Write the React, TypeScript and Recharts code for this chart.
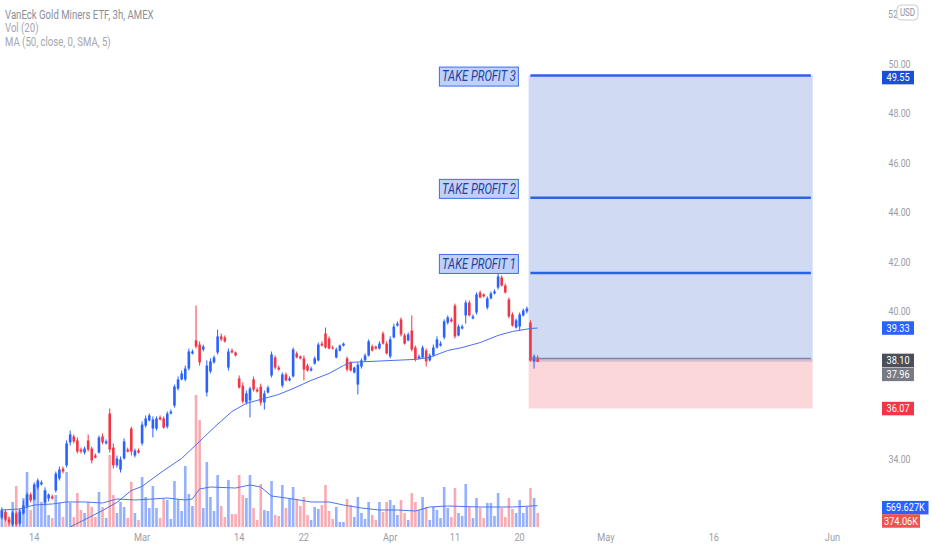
import React from 'react';
import {
  ComposedChart,
  Bar,
  Line,
  XAxis,
  YAxis,
  ReferenceArea,
  ReferenceLine,
} from 'recharts';

// 3h candles, Feb 9 - Apr 21 (index 0..149), rest of the axis is empty future space
const opens = [
  31.66, 31.90, 31.58, 31.38, 31.82, 31.42, 31.82, 32.11, 32.59, 32.39,
  32.88, 33.00, 32.27, 32.43, 32.51, 32.75, 33.24, 33.64, 33.77, 34.70,
  34.94, 34.78, 34.41, 34.29, 34.78, 34.45, 34.17, 34.29, 34.94, 34.66,
  35.87, 34.49, 33.77, 33.60, 34.05, 34.41, 35.26, 34.17, 34.37, 34.66,
  35.38, 35.59, 35.26, 35.26, 35.71, 35.67, 35.34, 35.87, 36.19, 36.88,
  37.25, 37.25, 37.69, 38.30, 38.83, 38.66, 38.46, 36.72, 37.57, 37.94,
  38.34, 38.99, 38.95, 37.73, 38.42, 38.34, 37.29, 37.00, 36.32, 36.40,
  37.25, 36.84, 36.96, 36.32, 36.72, 37.41, 38.14, 37.73, 37.00, 37.45,
  37.21, 37.37, 38.30, 38.18, 38.10, 37.81, 37.61, 37.89, 38.02, 38.70,
  39.11, 38.91, 38.54, 38.14, 38.42, 38.62, 38.10, 37.94, 37.53, 37.04,
  37.77, 38.02, 38.22, 38.58, 38.58, 38.50, 39.11, 38.70, 38.18, 38.95,
  39.43, 39.68, 39.03, 38.83, 39.23, 38.54, 38.10, 38.14, 38.42, 38.02,
  38.22, 38.54, 38.62, 38.95, 39.55, 39.68, 40.24, 39.03, 39.31, 39.84,
  40.36, 39.72, 39.96, 40.77, 40.69, 40.16, 40.53, 40.73, 40.97, 41.38,
  41.05, 40.49, 39.88, 39.35, 39.39, 39.84, 40.00, 39.55, 37.98, 38.14,
];
const highs = [
  32.07, 31.98, 31.70, 31.94, 31.90, 32.03, 32.35, 32.67, 32.67, 33.08,
  33.24, 33.16, 32.88, 32.63, 32.59, 33.52, 33.72, 33.72, 34.78, 35.18,
  35.02, 34.90, 34.49, 34.53, 35.02, 34.53, 34.25, 34.98, 35.06, 34.82,
  36.07, 34.66, 34.17, 34.13, 34.86, 34.49, 35.34, 34.45, 34.45, 35.55,
  35.79, 35.87, 35.75, 35.75, 35.79, 35.75, 35.95, 36.03, 37.04, 37.37,
  37.61, 37.81, 38.50, 38.46, 40.24, 38.79, 38.66, 38.02, 38.10, 38.22,
  39.27, 39.11, 39.03, 38.50, 38.50, 38.38, 37.41, 37.13, 36.80, 36.96,
  37.37, 36.92, 37.08, 36.80, 37.00, 38.38, 38.22, 37.81, 37.53, 37.53,
  37.37, 38.54, 38.38, 38.22, 38.22, 37.89, 37.77, 38.18, 38.74, 38.79,
  39.35, 38.99, 38.62, 38.54, 38.66, 38.74, 38.18, 37.98, 37.77, 37.94,
  38.10, 38.30, 38.87, 38.66, 38.62, 38.79, 39.19, 38.79, 38.99, 39.51,
  39.60, 39.76, 39.11, 39.15, 39.84, 38.62, 38.26, 38.62, 38.50, 38.30,
  38.66, 38.99, 38.79, 39.68, 39.84, 39.76, 40.32, 39.47, 39.47, 40.45,
  40.45, 39.88, 40.77, 40.85, 40.73, 40.61, 40.81, 40.89, 41.54, 41.46,
  41.13, 40.57, 39.96, 39.72, 39.96, 40.12, 40.20, 39.64, 38.26, 38.22,
];
const lows = [
  31.58, 31.50, 31.34, 31.30, 31.30, 31.34, 31.78, 32.03, 32.27, 32.35,
  32.79, 32.96, 32.15, 32.31, 32.39, 32.67, 33.16, 33.44, 33.68, 34.57,
  34.66, 34.25, 34.25, 34.21, 34.33, 33.85, 34.05, 34.25, 34.62, 34.62,
  34.29, 33.64, 33.68, 33.48, 34.01, 34.29, 34.17, 34.09, 34.25, 34.57,
  35.30, 35.55, 34.90, 35.18, 35.59, 35.26, 35.26, 35.83, 36.11, 36.80,
  37.21, 37.17, 37.61, 38.26, 38.50, 37.81, 38.38, 36.56, 37.49, 37.89,
  38.26, 38.79, 38.74, 37.61, 38.30, 38.18, 36.88, 36.28, 36.24, 35.71,
  36.76, 36.72, 36.19, 36.03, 36.68, 37.33, 37.65, 37.61, 36.92, 37.17,
  37.17, 37.33, 38.10, 38.06, 37.21, 37.57, 37.57, 37.85, 37.98, 38.58,
  38.50, 38.46, 38.46, 38.10, 38.38, 38.58, 37.57, 37.57, 37.49, 36.64,
  37.69, 37.98, 38.18, 38.38, 38.46, 38.46, 38.66, 38.26, 38.10, 38.91,
  39.39, 38.99, 38.66, 38.79, 38.38, 37.98, 38.06, 38.10, 37.77, 37.98,
  38.18, 38.50, 38.58, 38.87, 39.47, 39.55, 38.91, 38.99, 39.27, 39.51,
  39.80, 39.68, 39.88, 40.53, 40.57, 40.08, 40.49, 40.69, 40.89, 41.01,
  40.73, 39.72, 39.39, 39.31, 39.23, 39.80, 39.92, 37.98, 37.69, 37.98,
];
const closes = [
  31.94, 31.58, 31.46, 31.86, 31.38, 31.90, 32.15, 32.59, 32.35, 33.00,
  33.16, 33.08, 32.75, 32.59, 32.43, 33.44, 33.60, 33.52, 34.66, 35.02,
  34.74, 34.33, 34.33, 34.45, 34.41, 33.97, 34.09, 34.90, 34.70, 34.74,
  34.41, 33.77, 34.05, 34.01, 34.74, 34.33, 34.33, 34.37, 34.29, 35.42,
  35.67, 35.79, 35.63, 35.67, 35.63, 35.30, 35.87, 35.95, 36.96, 37.25,
  37.49, 37.69, 38.38, 38.38, 38.58, 37.94, 38.58, 37.81, 37.98, 38.14,
  38.99, 38.87, 38.79, 38.38, 38.34, 38.22, 36.92, 36.36, 36.68, 36.88,
  36.84, 36.76, 36.32, 36.68, 36.92, 38.26, 37.73, 37.65, 37.45, 37.21,
  37.29, 38.46, 38.14, 38.10, 37.65, 37.61, 37.69, 38.10, 38.66, 38.62,
  38.54, 38.50, 38.50, 38.46, 38.62, 38.70, 37.65, 37.61, 37.73, 37.85,
  38.02, 38.22, 38.79, 38.42, 38.50, 38.70, 38.70, 38.30, 38.87, 39.39,
  39.51, 39.07, 38.70, 39.07, 38.46, 38.06, 38.18, 38.54, 37.98, 38.22,
  38.54, 38.87, 38.70, 39.60, 39.76, 39.60, 38.99, 39.39, 39.39, 40.36,
  39.84, 39.80, 40.69, 40.57, 40.61, 40.53, 40.73, 40.81, 41.42, 41.05,
  40.77, 39.80, 39.43, 39.64, 39.88, 40.04, 40.12, 38.02, 38.18, 37.96,
];
// volume in thousands of shares
const volumes = [
  481, 374, 267, 668, 1095, 454, 774, 1469, 454, 1041,
  1175, 668, 988, 320, 240, 854, 641, 267, 1469, 641,
  267, 908, 454, 374, 668, 534, 267, 935, 534, 240,
  1922, 854, 374, 668, 534, 240, 1202, 374, 187, 1335,
  801, 507, 1095, 507, 240, 748, 721, 214, 1228, 748,
  427, 1629, 881, 561, 3524, 2857, 507, 1736, 801, 427,
  1388, 561, 267, 1255, 347, 347, 1388, 854, 774, 1388,
  507, 187, 1148, 454, 427, 1228, 320, 294, 1121, 507,
  748, 1068, 748, 561, 801, 320, 187, 534, 481, 587,
  1121, 427, 214, 534, 134, 134, 748, 587, 267, 801,
  374, 214, 668, 320, 187, 668, 401, 668, 721, 587,
  320, 721, 374, 187, 908, 668, 454, 801, 534, 187,
  534, 454, 240, 1068, 507, 267, 1041, 374, 294, 1148,
  534, 240, 774, 507, 240, 641, 641, 294, 908, 507,
  267, 774, 481, 374, 721, 374, 534, 1041, 774, 374.06,
];
// MA (50) at a few bars: [bar, value]
const maPoints = [
  [18, 31.2], [28, 31.94], [32, 32.27], [36, 32.75], [39, 32.92], [45, 33.56],
  [50, 34.05], [54, 34.6], [59, 35.3], [64, 35.95], [68, 36.28], [72, 36.44],
  [77, 36.64], [81, 36.88], [86, 37.21], [91, 37.49], [95, 37.81], [97, 37.94],
  [100, 37.96], [109, 38.02], [115, 38.06], [119, 38.14], [124, 38.42],
  [128, 38.54], [133, 38.74], [138, 39.03], [142, 39.19], [147, 39.31], [149, 39.33],
];
// Vol (20) average, thousands
const volMaPoints = [
  [0, 454], [5, 481], [9, 587], [14, 614], [18, 668], [23, 668], [28, 641],
  [32, 748], [37, 721], [42, 748], [46, 774], [51, 721], [53, 748], [54, 881],
  [55, 1015], [58, 1068], [65, 1041], [69, 1121], [72, 1068], [75, 828],
  [81, 748], [86, 668], [91, 668], [95, 587], [100, 507], [105, 454], [110, 454],
  [115, 427], [119, 534], [124, 561], [133, 534], [142, 534], [149, 569.627],
];
const totalBars = 245;
const dateLabels = {
  9: '14', 39: 'Mar', 66: '14', 84: '22', 108: 'Apr',
  126: '11', 144: '20', 168: 'May', 198: '16', 231: 'Jun',
};
const priceTicks = [34, 40, 42, 44, 46, 48, 50, 52];

// position tool
const zoneStart = 147;
const zoneEnd = 225;
const entry = 38.1;
const stopLoss = 36.07;
const lastPrice = 37.96;
const maLast = 39.33;
const takeProfits = [
  { name: 'TAKE PROFIT 1', price: 41.56, dy: -9 },
  { name: 'TAKE PROFIT 2', price: 44.6, dy: -9 },
  { name: 'TAKE PROFIT 3', price: 49.55, dy: 1 },
];

const BLUE = '#2962ff';
const RED = '#f23645';
const GREY_TEXT = '#9a9da6';
const FONT = 'Roboto, sans-serif';

const maMap = new Map(maPoints.map(([i, v]) => [i, v]));
const vmaMap = new Map(volMaPoints.map(([i, v]) => [i, v]));

const rows = Array.from({ length: totalBars }, (_, i) => {
  const row: any = { t: i };
  if (i < closes.length) {
    row.o = opens[i];
    row.h = highs[i];
    row.l = lows[i];
    row.c = closes[i];
    row.range = [lows[i], highs[i]];
    row.v = volumes[i];
  }
  if (maMap.has(i)) row.ma = maMap.get(i);
  if (vmaMap.has(i)) row.vma = vmaMap.get(i);
  return row;
});

function SquishText({ x, y, anchor = 'start', size = 11, fill = GREY_TEXT, italic = false, children }: any) {
  return (
    <text
      transform={`translate(${x} ${y}) scale(0.8 1)`}
      textAnchor={anchor}
      fontSize={size}
      fontFamily={FONT}
      fontStyle={italic ? 'italic' : 'normal'}
      fill={fill}
    >
      {children}
    </text>
  );
}

function CandleShape(props: any) {
  const { x, y, width, height } = props;
  const d = props.payload || props;
  if (d.o == null || !height) return null;
  const top = Math.min(y, y + height);
  const span = Math.abs(height);
  const k = span / (d.h - d.l);
  const yO = top + (d.h - d.o) * k;
  const yC = top + (d.h - d.c) * k;
  const color = d.c >= d.o ? BLUE : RED;
  const cx = x + width / 2;
  const bw = 2.6;
  return (
    <g>
      <line x1={cx} x2={cx} y1={top} y2={top + span} stroke={color} strokeWidth={1} />
      <rect x={cx - bw / 2} y={Math.min(yO, yC)} width={bw} height={Math.max(1, Math.abs(yC - yO))} fill={color} />
    </g>
  );
}

function VolumeShape(props: any) {
  const { x, y, width, height } = props;
  const d = props.payload || props;
  if (d.v == null || !height) return null;
  const up = d.c >= d.o;
  const cx = x + width / 2;
  return (
    <rect
      x={cx - 1.3}
      y={Math.min(y, y + height)}
      width={2.6}
      height={Math.abs(height)}
      fill={up ? BLUE : RED}
      fillOpacity={up ? 0.5 : 0.42}
    />
  );
}

function DateTick({ x, payload }: any) {
  const label = dateLabels[payload.value];
  if (!label) return <g />;
  return <SquishText x={x} y={541} anchor="middle" size={11.5}>{label}</SquishText>;
}

function PriceTick({ y, payload }: any) {
  // the top label is mostly hidden behind the currency button, only "52" shows
  if (payload.value === 52) {
    return <SquishText x={888} y={y + 3} size={11}>52</SquishText>;
  }
  return <SquishText x={899.5} y={y + 3.5} anchor="middle" size={11}>{payload.value.toFixed(2)}</SquishText>;
}

function Badge({ viewBox, text, color, dy = 0, w = 32 }: any) {
  if (!viewBox) return null;
  const bx = viewBox.x + viewBox.width + 1;
  const by = viewBox.y - 6.75 + dy;
  return (
    <g>
      <rect x={bx} y={by} width={w} height={13.5} fill={color} />
      <SquishText x={bx + w / 2} y={by + 10.3} anchor="middle" size={11.5} fill="#ffffff">{text}</SquishText>
    </g>
  );
}

function TpLabel({ viewBox, text, dy = 0 }: any) {
  if (!viewBox) return null;
  const bx = viewBox.x - 91;
  const by = viewBox.y - 9.5 + dy;
  return (
    <g>
      <rect x={bx} y={by} width={79} height={19} fill="#bfd0fa" stroke="#3c6cf0" strokeWidth={1} />
      <SquishText x={bx + 39.5} y={by + 14.2} anchor="middle" size={14} fill="#22409f" italic>{text}</SquishText>
    </g>
  );
}

export default function App() {
  return (
    <div style={{ position: 'absolute', left: 0, top: 0, width: 932, height: 550, background: '#ffffff' }}>
      <ComposedChart width={932} height={550} data={rows} margin={{ top: 0, right: 0, bottom: 0, left: 0 }}>
        <XAxis
          dataKey="t"
          type="category"
          interval={0}
          height={23}
          axisLine={false}
          tickLine={false}
          tick={<DateTick />}
        />
        <XAxis xAxisId="v" dataKey="t" type="category" hide />
        <YAxis
          yAxisId="p"
          orientation="right"
          type="number"
          width={51}
          domain={[31.275, 52.61]}
          ticks={priceTicks}
          allowDataOverflow
          axisLine={false}
          tickLine={false}
          tick={<PriceTick />}
        />
        <YAxis yAxisId="vol" type="number" hide domain={[0, 14071]} allowDataOverflow />

        <ReferenceArea yAxisId="p" x1={zoneStart} x2={zoneEnd} y1={entry} y2={takeProfits[2].price} fill="#1f4fc7" fillOpacity={0.21} stroke="none" />
        <ReferenceArea yAxisId="p" x1={zoneStart} x2={zoneEnd} y1={stopLoss} y2={entry} fill={RED} fillOpacity={0.2} stroke="none" />
        <ReferenceArea yAxisId="p" x1={zoneStart} x2={zoneEnd} y1={lastPrice} y2={entry} fill="#1f4fc7" fillOpacity={0.18} stroke="none" />

        <Bar xAxisId="v" yAxisId="vol" dataKey="v" shape={<VolumeShape />} isAnimationActive={false} />
        <Line xAxisId="v" yAxisId="vol" dataKey="vma" connectNulls dot={false} activeDot={false} stroke="#4f74ea" strokeWidth={1} isAnimationActive={false} />
        <Line yAxisId="p" dataKey="ma" connectNulls dot={false} activeDot={false} stroke="#4a6fea" strokeWidth={1} isAnimationActive={false} />
        <Bar yAxisId="p" dataKey="range" shape={<CandleShape />} isAnimationActive={false} />

        <ReferenceLine
          yAxisId="p"
          segment={[{ x: zoneStart, y: entry }, { x: zoneEnd, y: entry }]}
          stroke="#7d879c"
          strokeWidth={1.5}
        />
        {takeProfits.map((tp) => (
          <ReferenceLine
            key={tp.name}
            yAxisId="p"
            segment={[{ x: zoneStart, y: tp.price }, { x: zoneEnd, y: tp.price }]}
            stroke="#2a62e8"
            strokeWidth={2.5}
            label={<TpLabel text={tp.name} dy={tp.dy} />}
          />
        ))}

        <ReferenceLine yAxisId="p" y={takeProfits[2].price} stroke="none" label={<Badge text="49.55" color="#1c4fd6" dy={2} />} />
        <ReferenceLine yAxisId="p" y={maLast} stroke="none" label={<Badge text="39.33" color={BLUE} />} />
        <ReferenceLine yAxisId="p" y={entry} stroke="none" label={<Badge text="38.10" color="#4c4f58" dy={2} />} />
        <ReferenceLine yAxisId="p" y={lastPrice} stroke="none" label={<Badge text="37.96" color="#787b86" dy={12.5} />} />
        <ReferenceLine yAxisId="p" y={stopLoss} stroke="none" label={<Badge text="36.07" color={RED} />} />
        <ReferenceLine yAxisId="vol" y={569.627} stroke="none" label={<Badge text="569.627K" color={BLUE} w={46.5} dy={2} />} />
        <ReferenceLine yAxisId="vol" y={374.06} stroke="none" label={<Badge text="374.06K" color="#ef5350" w={38} dy={8} />} />
      </ComposedChart>

      <svg width={932} height={550} style={{ position: 'absolute', left: 0, top: 0, pointerEvents: 'none' }}>
        <SquishText x={5} y={18.5} size={12} fill="#8c8f98">VanEck Gold Miners ETF, 3h, AMEX</SquishText>
        <SquishText x={5} y={32} size={12} fill="#a3a6ae">Vol (20)</SquishText>
        <SquishText x={5} y={45.5} size={12} fill="#a3a6ae">MA (50, close, 0, SMA, 5)</SquishText>
        <rect x={897} y={5} width={21} height={15} rx={4} fill="#ffffff" stroke="#c9ccd3" />
        <SquishText x={907.5} y={16} anchor="middle" size={10} fill="#8c8f98">USD</SquishText>
      </svg>
    </div>
  );
}
